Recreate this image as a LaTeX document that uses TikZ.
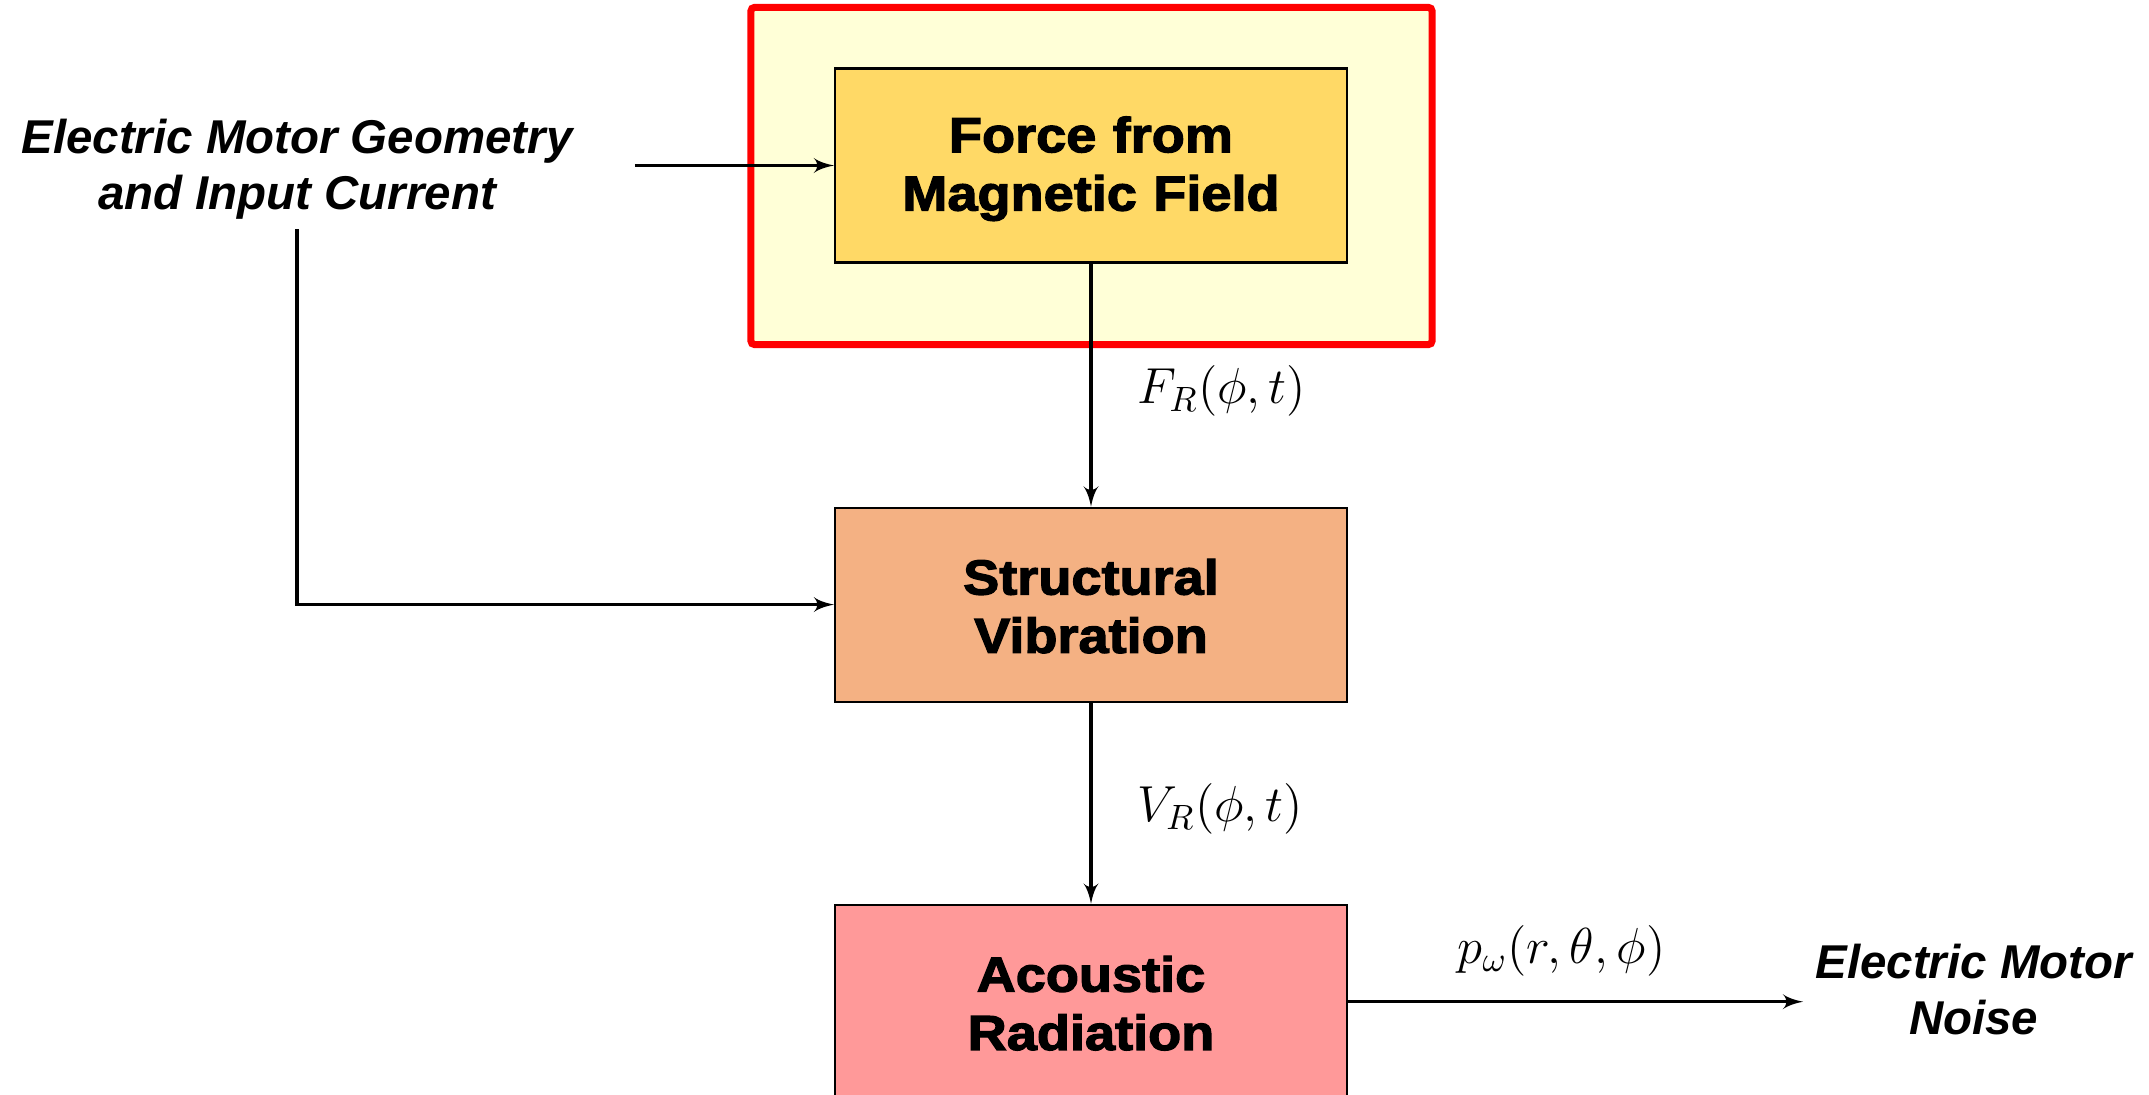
\documentclass[tikz,border=0pt]{standalone}
\usepackage{amsmath}
\usepackage{fontspec}
\setmainfont{Liberation Sans}
\newfontfamily\blockfont{Liberation Sans Bold}[FakeStretch=1.1, FakeBold=2.5]
\usepackage{xcolor}
\usepackage{tikz}
\usetikzlibrary{arrows, positioning, fit, calc, backgrounds}

\definecolor{forcefill}{HTML}{FFD966}
\definecolor{vibfill}{HTML}{F4B183}
\definecolor{acoufill}{HTML}{FF9999}
\definecolor{framefill}{HTML}{FFFFD7}
\definecolor{framered}{HTML}{FF0000}

\begin{document}
\begin{tikzpicture}[auto,
    block/.style={rectangle, draw=black, line width=0.6pt, minimum width=5.12cm, minimum height=1.94cm, text width=4.8cm, align=center, font=\fontsize{14}{16.6}\selectfont\blockfont},
    extin/.style={align=center, font=\fontsize{13.5}{15.9}\selectfont\bfseries\itshape},
    sig/.style={font=\fontsize{14}{16}\selectfont},
    line/.style={draw, -latex', line width=1pt}]

    \useasboundingbox (0,0) rectangle (21.49,-10.95);

    \node [block, fill=forcefill] at (10.91,-1.655) (force) {\rule{0pt}{12pt}Force from\\Magnetic Field};
    \node [block, fill=vibfill, below=2.43cm of force] (vib) {\rule{0pt}{11pt}Structural\\Vibration};
    \node [block, fill=acoufill, below=2.01cm of vib] (acou) {\rule{0pt}{11pt}Acoustic\\Radiation};

    \node [extin] at (2.97,-1.69) (geo) {Electric Motor Geometry\\and Input Current};
    \node [extin, right=4.55cm of acou, yshift=0.12cm] (noise) {Electric Motor\\Noise};

    % highlighted stage
    \begin{scope}[on background layer]
        \draw [framered, fill=framefill, line width=2pt, rounded corners=1pt]
            ([shift={(-0.83cm,0.6cm)}]force.north west) rectangle ([shift={(0.84cm,-0.81cm)}]force.south east);
    \end{scope}

    \path [line] ([xshift=0.5cm]geo.east |- force.west) -- (force.west);
    \path [line] ([yshift=0.02cm]geo.south) |- (vib.west);

    \path [line] (force) -- node [sig, midway, anchor=west, xshift=0.33cm, yshift=-0.06cm] {$F_R(\phi,t)$} (vib);
    \path [line] (vib) -- node [sig, midway, anchor=west, xshift=0.33cm, yshift=-0.06cm] {$V_R(\phi,t)$} (acou);
    \path [line] (acou.east) -- node [sig, midway, anchor=south, xshift=-0.14cm, yshift=0.12cm] {$p_\omega(r,\theta,\phi)$} (acou.east -| noise.west);
\end{tikzpicture}
\end{document}
